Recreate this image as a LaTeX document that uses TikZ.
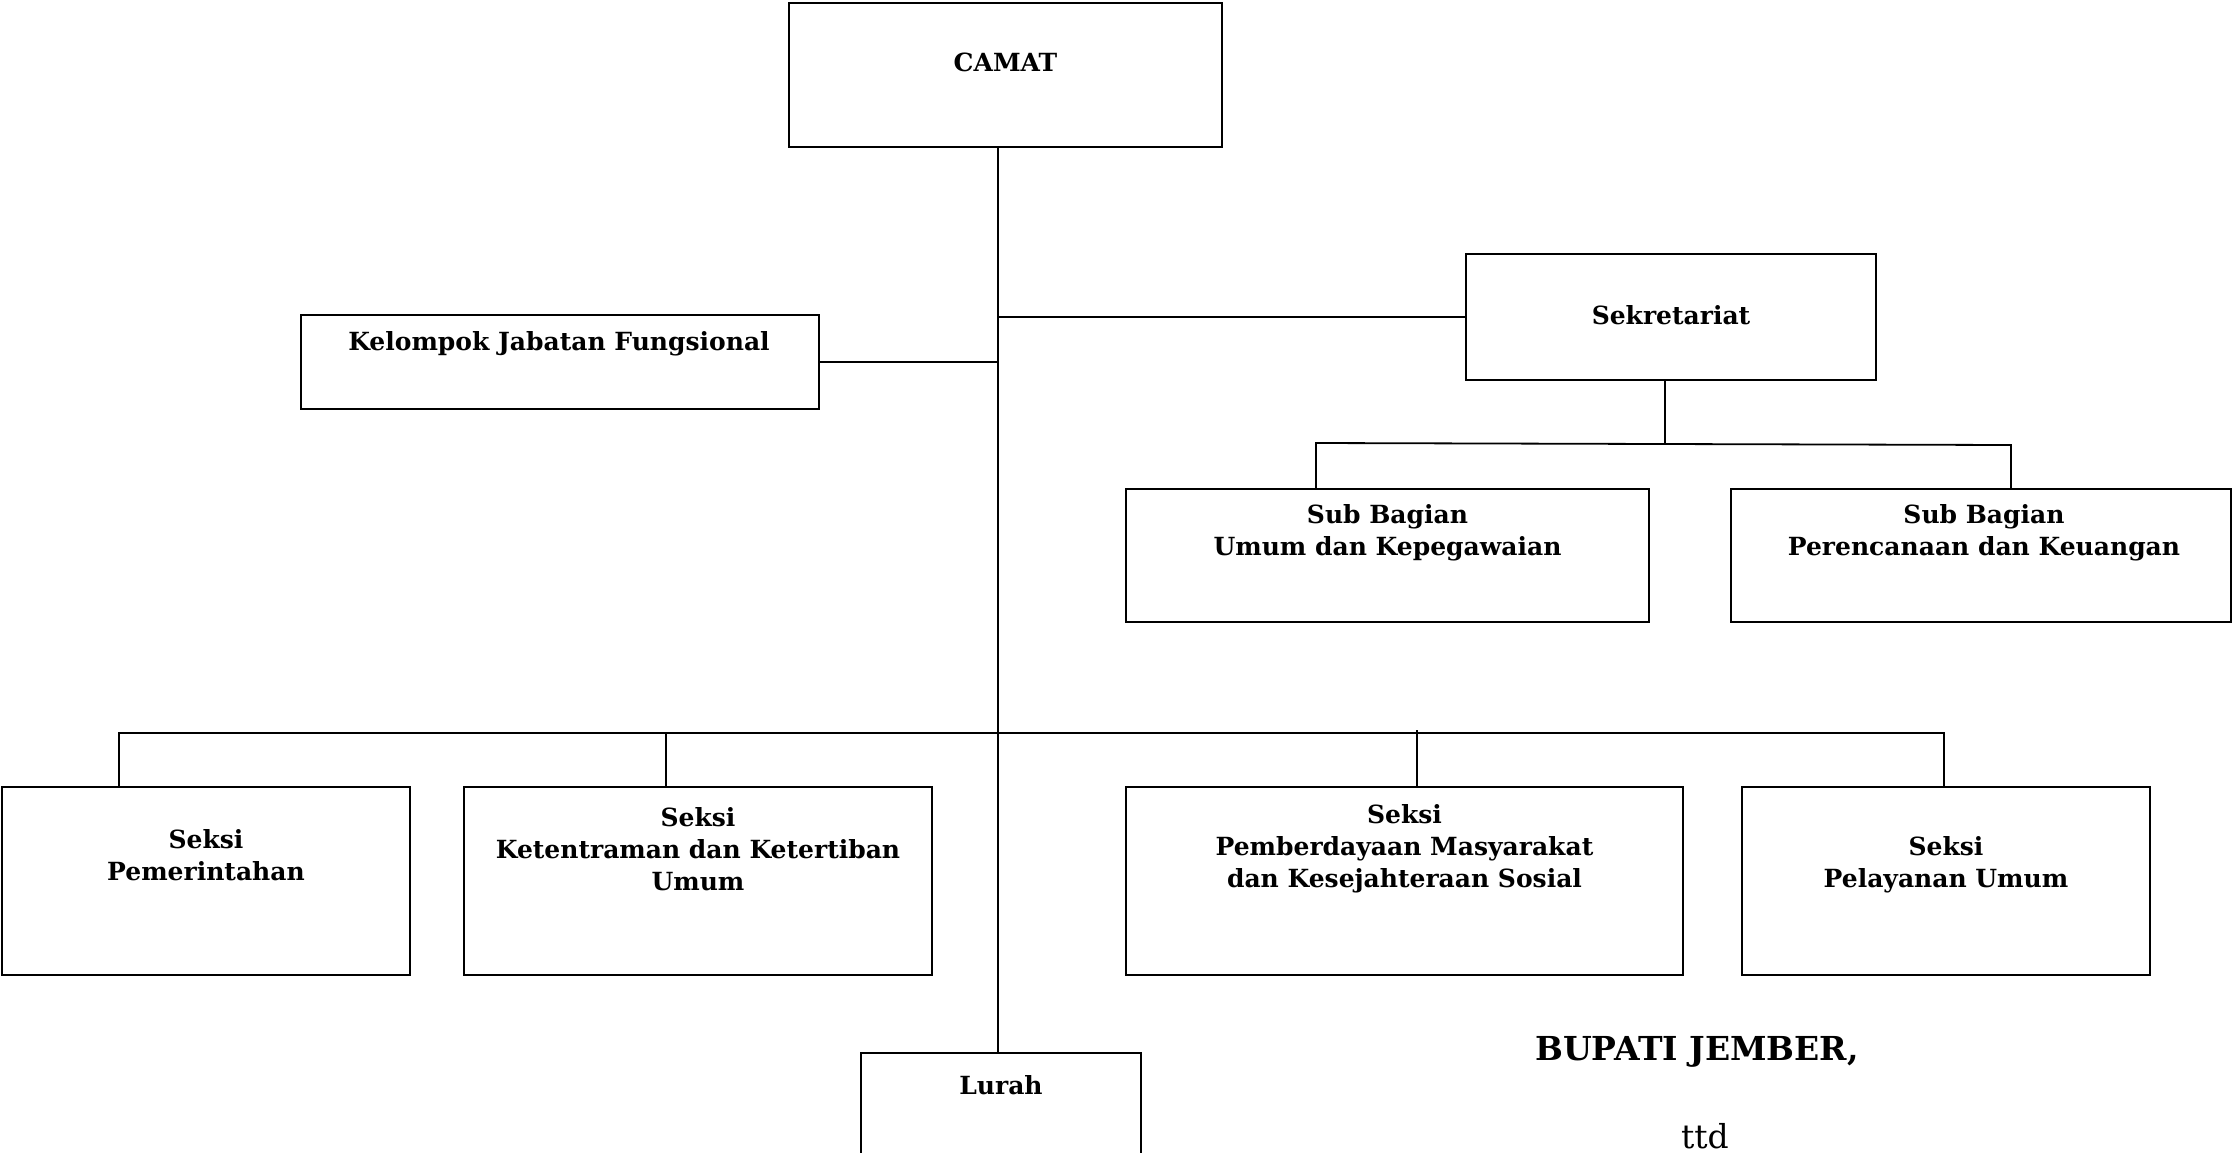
\documentclass[tikz,border=0pt]{standalone}
\usepackage{fontspec}
\setmainfont{DejaVu Serif}
\begin{document}
\begin{tikzpicture}[x=1pt,y=-1pt,
  box/.style={draw=black,line width=2pt,fill=white,inner sep=0pt,rectangle},
  lbl/.style={font=\fontsize{25}{32}\selectfont\bfseries,align=center,inner sep=0pt,anchor=center},
  conn/.style={draw=black,line width=1.8pt}]
\useasboundingbox[fill=white] (0,0) rectangle (2233,1152);
% boxes
\node[box,minimum width=433pt,minimum height=144pt] (camat) at (1005.5,75) {};
\node[box,minimum width=518pt,minimum height=94pt] (kel) at (560,362) {};
\node[box,minimum width=410pt,minimum height=126pt] (sekr) at (1671,317) {};
\node[box,minimum width=523pt,minimum height=133pt] (sbu) at (1387.5,555.5) {};
\node[box,minimum width=500pt,minimum height=133pt] (sbr) at (1981,555.5) {};
\node[box,minimum width=408pt,minimum height=188pt] (s1) at (206,881) {};
\node[box,minimum width=468pt,minimum height=188pt] (s2) at (698,881) {};
\node[box,minimum width=557pt,minimum height=188pt] (s3) at (1404.5,881) {};
\node[box,minimum width=408pt,minimum height=188pt] (s4) at (1946,881) {};
\node[box,minimum width=280pt,minimum height=120pt] (lurah) at (1001,1113) {};
% labels
\node[lbl] (tcamat) at (1005.5,62) {CAMAT};
\node[lbl] (tkel) at (559,344) {Kelompok Jabatan Fungsional};
\node[lbl] (tsekr) at (1671,315) {Sekretariat};
\node[lbl] (tsbu) at (1387.5,533) {Sub Bagian\\Umum dan Kepegawaian};
\node[lbl] (tsbr) at (1984,533) {Sub Bagian\\Perencanaan dan Keuangan};
\node[lbl] (ts1) at (206,855) {Seksi\\Pemerintahan};
\node[lbl] (ts2) at (698,849) {Seksi\\Ketentraman dan Ketertiban\\Umum};
\node[lbl] (ts3) at (1404.5,849) {Seksi\\Pemberdayaan Masyarakat\\dan Kesejahteraan Sosial};
\node[lbl] (ts4) at (1946,865) {Seksi\\Pelayanan Umum};
\node[lbl] (tlurah) at (1001,1085) {Lurah};
\node[font=\fontsize{33}{36}\selectfont\bfseries,inner sep=0pt,anchor=west] (bupati) at (1535,1052) {BUPATI JEMBER,};
\node[font=\fontsize{33}{36}\selectfont,inner sep=0pt] (ttd) at (1705,1136) {ttd};
% connector coordinates
\coordinate (tx) at (998,0);
\coordinate (sx) at (1665,0);
\coordinate (bar1) at (0,444);
\coordinate (bar2) at (0,733);
% trunk
\draw[conn] (camat.south -| tx) -- (lurah.north -| tx);
\draw[conn] (sekr.west) -- (sekr.west -| tx);
\draw[conn] (kel.east) -- (kel.east -| tx);
% sekretariat subtree
\draw[conn] (sekr.south -| sx) -- (bar1 -| sx);
\draw[conn] (sbu.north -| 1316,0) -- (1316,443) -- (2011,445) -- (sbr.north -| 2011,0);
% seksi bar
\draw[conn] (s1.north -| 119,0) -- (bar2 -| 119,0) -- (bar2 -| 1944,0) -- (s4.north -| 1944,0);
\draw[conn] (s2.north -| 666,0) -- (bar2 -| 666,0);
\draw[conn] (s3.north -| 1417,0) -- (1417,730);
\end{tikzpicture}
\end{document}
